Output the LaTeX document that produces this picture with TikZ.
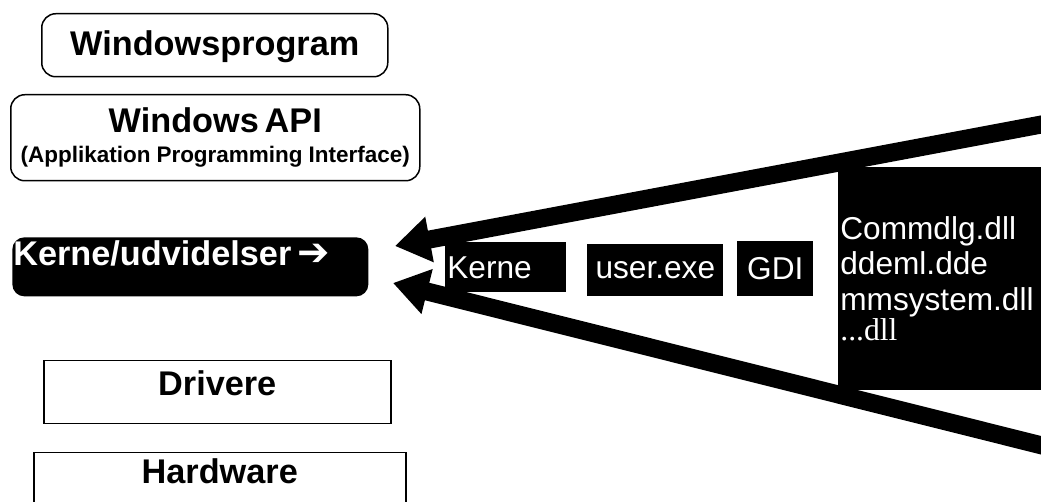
\documentclass[tikz,border=0pt]{standalone}
\usepackage{fontspec}
\setmainfont{Liberation Sans}
\newfontfamily\dllserif{Liberation Serif}
\newfontfamily\arrowsym{DejaVu Sans}
\usetikzlibrary{arrows.meta, positioning}

\newlength\pxu
\setlength\pxu{0.02cm}
\newcommand\layerfont{\fontsize{19.5}{22}\selectfont\bfseries}
\newcommand\apisubfont{\fontsize{12.8}{15}\selectfont\bfseries}
\newcommand\modfont{\fontsize{18}{20.3}\selectfont}

\tikzset{
  layerbox/.style={draw, line width=1.5\pxu, rounded corners=14\pxu, inner sep=0pt, align=center},
  plainbox/.style={draw, line width=1.5\pxu, inner sep=0pt, align=center},
  darkbox/.style={fill=black, text=white, inner sep=0pt},
  fatarrow/.style={line width=18\pxu, -{Triangle[length=20pt, width=25pt]}},
}

\begin{document}
\begin{tikzpicture}[x=0.02cm, y=-0.02cm]
    \useasboundingbox (0,0) rectangle (1041,502);
    \clip (0,0) rectangle (1041,502);

    % left column: layers
    \node[layerbox, anchor=north west, text width=346\pxu, text height=42\pxu, text depth=21\pxu]
        (winprog) at (41,13) {\layerfont Windowsprogram};
    \node[layerbox, anchor=north west, text width=409\pxu, minimum height=86\pxu]
        (winapi) at (10,94) {\layerfont Windows API\\[5pt]\apisubfont (Applikation Programming Interface)};
    \node[darkbox, rounded corners=12\pxu, anchor=north west, inner xsep=1\pxu, text width=354\pxu,
        text height=28\pxu, text depth=31\pxu, align=left]
        (kernelayer) at (12,237) {\layerfont Kerne/udvidelser {\arrowsym\bfseries\fontsize{22}{22}\selectfont ➔}};
    \node[plainbox, anchor=north west, text width=347\pxu, text height=35\pxu, text depth=28\pxu]
        (drivere) at (43,360) {\layerfont Drivere};
    \node[plainbox, anchor=north west, text width=372\pxu, text height=31\pxu, text depth=60\pxu]
        (hardware) at (33,452) {\layerfont Hardware};

    % right side: modules
    \node[darkbox, anchor=north west, inner xsep=2\pxu, text width=117\pxu, minimum height=50\pxu, align=left]
        (kerne) at (445,242) {\modfont Kerne};
    \node[darkbox, anchor=north west, text width=136\pxu, minimum height=52\pxu, align=center]
        (userexe) at (587,244) {\modfont user.exe};
    \node[darkbox, anchor=north west, text width=76\pxu, minimum height=55\pxu, align=center]
        (gdi) at (737,241) {\modfont GDI};
    \node[darkbox, anchor=north west, inner xsep=2\pxu, text width=210\pxu, minimum height=223\pxu, align=left]
        (dlls) at (838,167) {\modfont Commdlg.dll\\ddeml.dde\\mmsystem.dll\\{\dllserif ...dll}};

    % converging arrows
    \coordinate (topstart) at (1060,121);
    \coordinate (toptip) at (395,246);
    \coordinate (botstart) at (1060,450);
    \coordinate (bottip) at (393,283);
    \draw[fatarrow] (topstart) -- (toptip);
    \draw[fatarrow] (botstart) -- (bottip);
\end{tikzpicture}
\end{document}
